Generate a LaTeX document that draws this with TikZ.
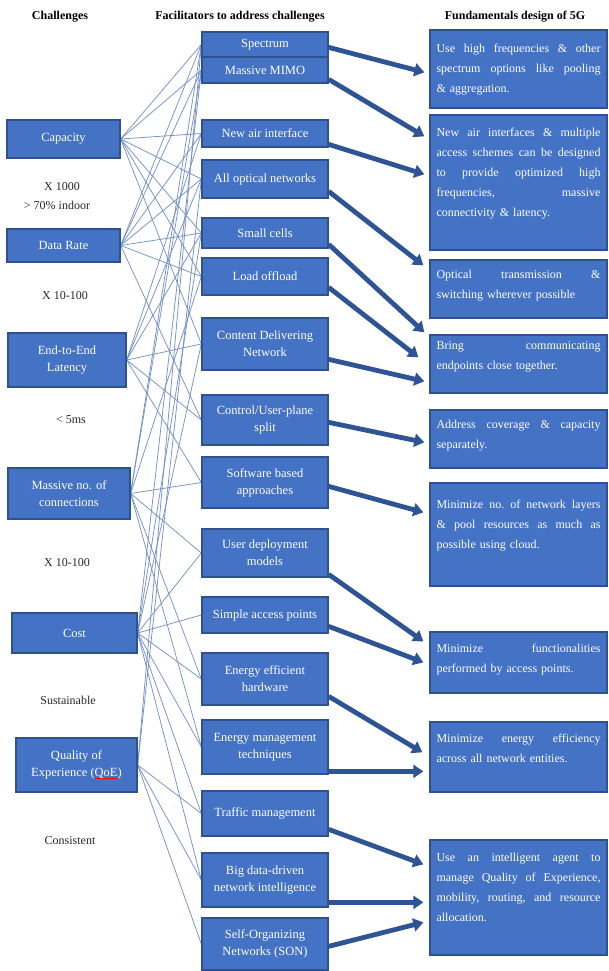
\documentclass[tikz,border=0pt]{standalone}
\usepackage{fontspec}
\setmainfont{Liberation Serif}
\usetikzlibrary{arrows.meta,calc}

\definecolor{boxfill}{RGB}{68,114,196}
\definecolor{boxline}{RGB}{47,82,143}
\definecolor{arrowblue}{RGB}{46,84,150}
\definecolor{linkblue}{RGB}{118,146,198}
\definecolor{labelgray}{RGB}{40,40,40}

% one fully justified line of a design box (font glue restored so spaces can stretch)
\newcommand\jline[1]{{\frenchspacing\spaceskip=0pt\xspaceskip=0pt\makebox[164pt][s]{#1}}}
% text with a red spell-check underline
\newcommand\redul[1]{\setbox0\hbox{#1}\rlap{\color{red}\rule[-2.4pt]{\wd0}{0.8pt}}#1}

\begin{document}
\begin{tikzpicture}[x=1pt,y=-1pt,
  header/.style={font=\bfseries\fontsize{12}{14}\selectfont, text=black, inner sep=0pt},
  sidelabel/.style={font=\fontsize{12}{15}\selectfont, text=labelgray, inner sep=0pt, align=center},
  cbox/.style={draw=boxline, line width=1.3pt, fill=boxfill, text=white, align=center,
    inner sep=1pt, font=\fontsize{12.5}{17}\selectfont},
  fbox/.style={cbox},
  dbox/.style={draw=boxline, line width=1.3pt, fill=boxfill, minimum width=177pt, inner sep=0pt},
  dtext/.style={text=white, text width=164pt, align=left, inner sep=0pt, anchor=north west,
    font=\fontsize{12}{20}\selectfont},
  link/.style={draw=linkblue, line width=0.75pt},
  bigarrow/.style={draw=arrowblue, line width=4.8pt, -{Triangle[width=13pt,length=10pt]}}
]
\useasboundingbox[fill=white] (0,0) rectangle (609,971);

% column headings
\node[header] (h1) at (60,17) {Challenges};
\node[header] (h2) at (240,17) {Facilitators to address challenges};
\node[header] (h3) at (515,17) {Fundamentals design of 5G};

% challenges
\node[cbox, minimum width=113pt, minimum height=38pt] (cap)  at (63.5,139)   {Capacity};
\node[cbox, minimum width=113pt, minimum height=33pt] (rate) at (63.5,245.5) {Data Rate};
\node[cbox, minimum width=118pt, minimum height=54pt] (lat)  at (67,360)     {End-to-End\\Latency};
\node[cbox, minimum width=122pt, minimum height=51pt] (mass) at (69,493.5)   {Massive no. of\\connections};
\node[cbox, minimum width=125pt, minimum height=40pt] (cost) at (74.5,633)   {Cost};
\node[cbox, minimum width=121pt, minimum height=54pt] (qoe)  at (76.5,765)   {Quality of\\Experience (\redul{QoE})};

% targets under each challenge
\node[sidelabel] (l1) at (62,187) {X 1000};
\node[sidelabel] (l2) at (57,205) {> 70\% indoor};
\node[sidelabel] (l3) at (65,296) {X 10-100};
\node[sidelabel] (l4) at (71,420) {< 5ms};
\node[sidelabel] (l5) at (67,563) {X 10-100};
\node[sidelabel] (l6) at (68,700) {Sustainable};
\node[sidelabel] (l7) at (70,841) {Consistent};

% facilitators
\begin{scope}[every node/.append style={fbox, minimum width=126pt}]
\node[minimum height=25pt] (spec)  at (265,44.5)  {Spectrum};
\node[minimum height=26pt] (mimo)  at (265,70)    {Massive MIMO};
\node[minimum height=27pt] (air)   at (265,133.5) {New air interface};
\node[minimum height=38pt] (opt)   at (265,179)   {All optical networks};
\node[minimum height=30pt] (small) at (265,233)   {Small cells};
\node[minimum height=37pt] (load)  at (265,276.5) {Load offload};
\node[minimum height=52pt] (cdn)   at (265,344)   {Content Delivering\\Network};
\node[minimum height=50pt] (cup)   at (265,420)   {Control/User-plane\\split};
\node[minimum height=51pt] (sw)    at (265,482.5) {Software based\\approaches};
\node[minimum height=48pt] (udm)   at (265,553)   {User deployment\\models};
\node[minimum height=36pt] (sap)   at (265,615)   {Simple access points};
\node[minimum height=52pt] (eeh)   at (265,679)   {Energy efficient\\hardware};
\node[minimum height=54pt] (emt)   at (265,747)   {Energy management\\techniques};
\node[minimum height=45pt] (tm)    at (265,813.5) {Traffic management};
\node[minimum height=54pt] (bd)    at (265,880)   {Big data-driven\\network intelligence};
\node[minimum height=52pt] (son)   at (265,944)   {Self-Organizing\\Networks (SON)};
\end{scope}

% links from challenges to facilitators
\foreach \a/\b in {cap/spec, cap/mimo, cap/air, cap/opt, cap/small, cap/load, cap/cdn,
  rate/spec, rate/mimo, rate/air, rate/opt, rate/small, rate/load, rate/cup,
  lat/air, lat/opt, lat/small, lat/cdn, lat/cup, lat/sw,
  mass/spec, mass/mimo, mass/load, mass/sw, mass/udm, mass/eeh, mass/emt,
  cost/mimo, cost/small, cost/cdn, cost/udm, cost/sap, cost/eeh, cost/emt, cost/tm, cost/bd,
  qoe/spec, qoe/opt, qoe/tm, qoe/bd, qoe/son}
  \draw[link] (\a.east) -- (\b.west);
% box outlines kept on top of the links
\foreach \n in {cap,rate,lat,mass,cost,qoe,spec,mimo,air,opt,small,load,cdn,cup,sw,udm,sap,eeh,emt,tm,bd,son}
  \draw[draw=boxline, line width=1.3pt] (\n.north west) rectangle (\n.south east);

% design fundamentals
\node[dbox, minimum height=78pt]  (f1) at (518.5,69)    {};
\node[dbox, minimum height=135pt] (f2) at (518.5,182.5) {};
\node[dbox, minimum height=58pt]  (f3) at (518.5,289)   {};
\node[dbox, minimum height=58pt]  (f4) at (518.5,364)   {};
\node[dbox, minimum height=58pt]  (f5) at (518.5,439)   {};
\node[dbox, minimum height=103pt] (f6) at (518.5,534.5) {};
\node[dbox, minimum height=61pt]  (f7) at (518.5,662.5) {};
\node[dbox, minimum height=70pt]  (f8) at (518.5,757)   {};
\node[dbox, minimum height=115pt] (f9) at (518.5,897.5) {};

\node[dtext] (t1) at ($(f1.north west)+(7,15)$) {\jline{Use high frequencies \& other}\\\jline{spectrum options like pooling}\\\& aggregation.};
\node[dtext] (t2) at ($(f2.north west)+(7,14)$) {\jline{New air interfaces \& multiple}\\\jline{access schemes can be designed}\\\jline{to provide optimized high}\\\jline{frequencies, massive}\\connectivity \& latency.};
\node[dtext] (t3) at ($(f3.north west)+(7,11)$) {\jline{Optical transmission \&}\\switching wherever possible};
\node[dtext] (t4) at ($(f4.north west)+(7,7)$) {\jline{Bring communicating}\\endpoints close together.};
\node[dtext] (t5) at ($(f5.north west)+(7,11)$) {\jline{Address coverage \& capacity}\\separately.};
\node[dtext] (t6) at ($(f6.north west)+(7,17)$) {\jline{Minimize no. of network layers}\\\jline{\& pool resources as much as}\\possible using cloud.};
\node[dtext] (t7) at ($(f7.north west)+(7,12)$) {\jline{Minimize functionalities}\\performed by access points.};
\node[dtext] (t8) at ($(f8.north west)+(7,12)$) {\jline{Minimize energy efficiency}\\across all network entities.};
\node[dtext] (t9) at ($(f9.north west)+(7,14)$) {\jline{Use an intelligent agent to}\\\jline{manage Quality of Experience,}\\\jline{mobility, routing, and resource}\\allocation.};

% facilitator -> design fundamental
\draw[bigarrow] ($(spec.north east)+(0,16)$)  -- ($(f1.north west)+(-5,43)$);
\draw[bigarrow] ($(mimo.north east)+(0,23)$)  -- ($(f2.north west)+(-5,22)$);
\draw[bigarrow] ($(air.north east)+(0,25)$)   -- ($(f2.north west)+(-5,60)$);
\draw[bigarrow] ($(opt.north east)+(0,32)$)   -- ($(f3.north west)+(-6,6)$);
\draw[bigarrow] ($(small.north east)+(0,27)$) -- ($(f4.north west)+(-5,-2)$);
\draw[bigarrow] ($(load.north east)+(0,30)$)  -- ($(f4.north west)+(-11,23)$);
\draw[bigarrow] ($(cdn.north east)+(0,42)$)   -- ($(f4.north west)+(-5,47)$);
\draw[bigarrow] ($(cup.north east)+(0,28)$)   -- ($(f5.north west)+(-5,33)$);
\draw[bigarrow] ($(sw.north east)+(0,30)$)    -- ($(f6.north west)+(-6,30)$);
\draw[bigarrow] ($(udm.north east)+(0,46)$)   -- ($(f7.north west)+(-6,10)$);
\draw[bigarrow] ($(sap.north east)+(0,30)$)   -- ($(f7.north west)+(-6,31)$);
\draw[bigarrow] ($(eeh.north east)+(0,44)$)   -- ($(f8.north west)+(-7,31)$);
\draw[bigarrow] ($(emt.north east)+(0,52)$)   -- ($(f8.north west)+(-6,50)$);
\draw[bigarrow] ($(tm.north east)+(0,39)$)    -- ($(f9.north west)+(-6,25)$);
\draw[bigarrow] ($(bd.north east)+(0,50)$)    -- ($(f9.north west)+(-6,63)$);
\draw[bigarrow] ($(son.north east)+(0,29)$)   -- ($(f9.north west)+(-6,83)$);
\end{tikzpicture}
\end{document}
